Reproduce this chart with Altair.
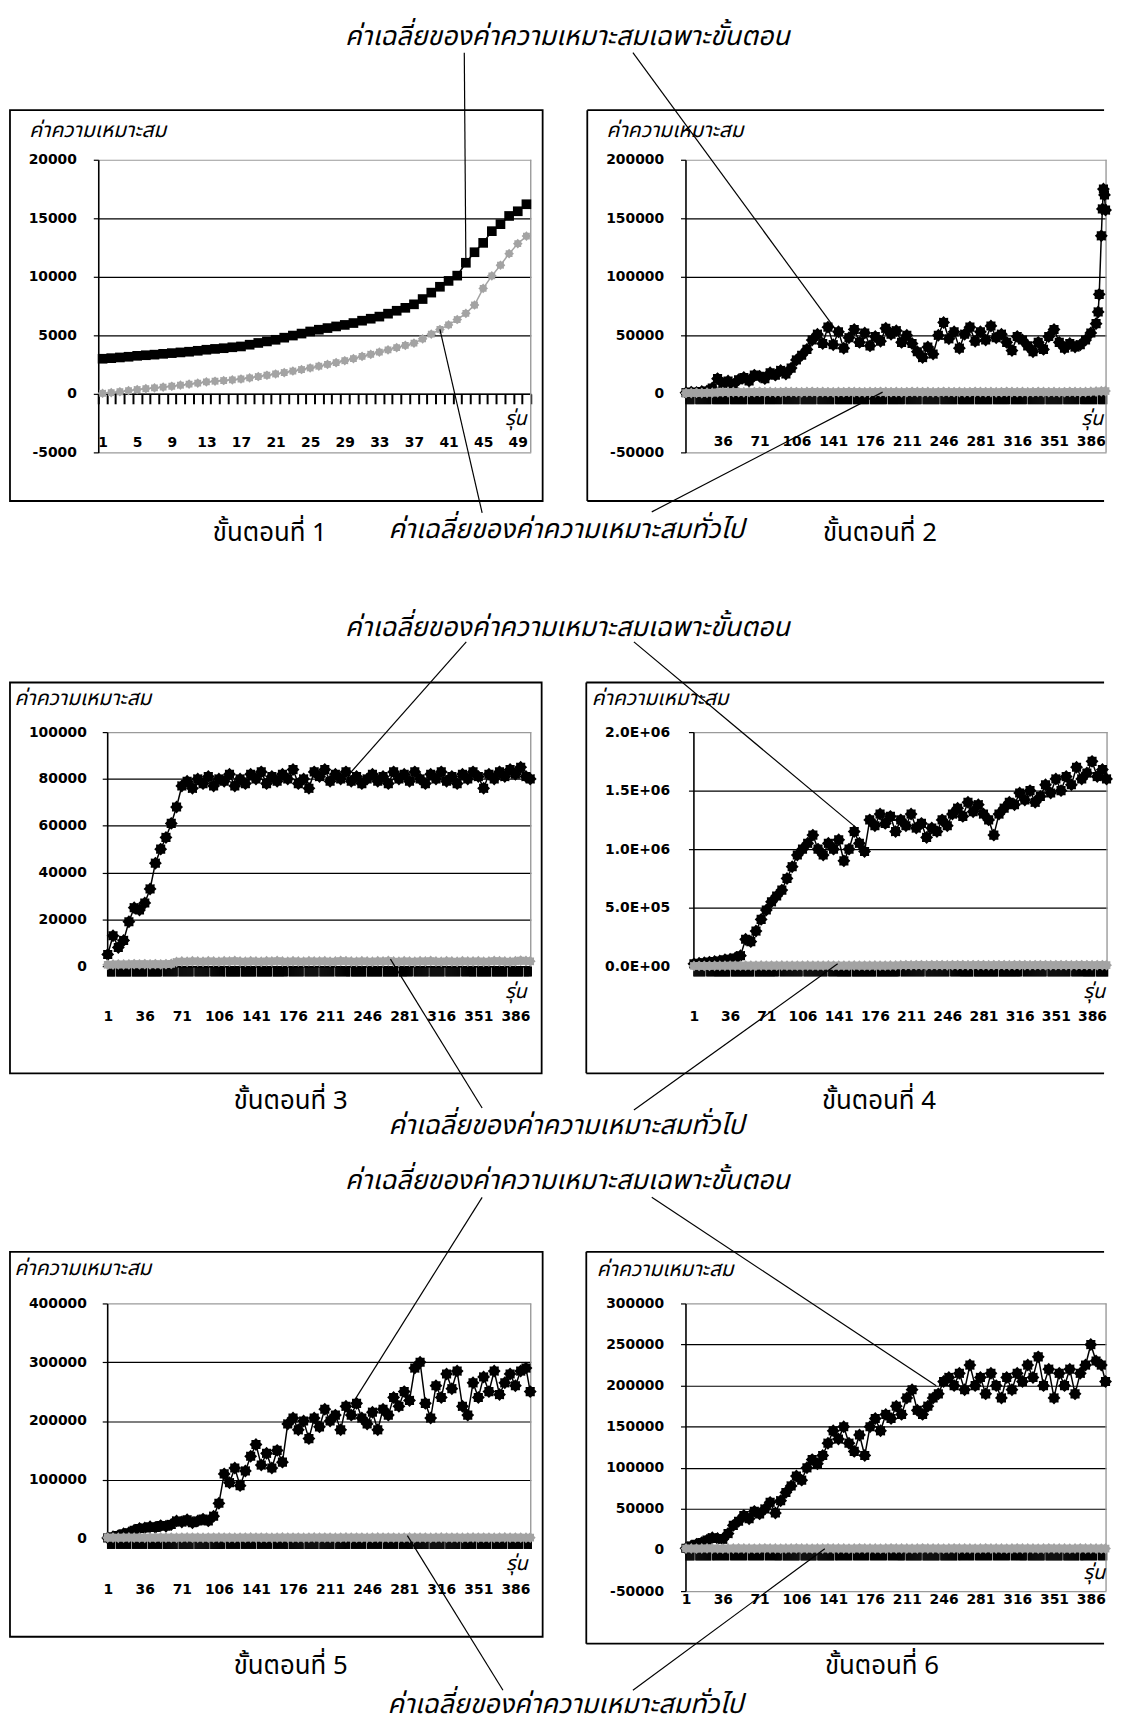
import altair as alt
import pandas as pd

# ---------------- texts ----------------
Y_TITLE = "ค่าความเหมาะสม"
X_TITLE = "รุ่น"
NOTE_SPECIFIC = "ค่าเฉลี่ยของค่าความเหมาะสมเฉพาะขั้นตอน"
NOTE_GENERAL = "ค่าเฉลี่ยของค่าความเหมาะสมทั่วไป"
STEP_CAPTIONS = ["ขั้นตอนที่ 1", "ขั้นตอนที่ 2", "ขั้นตอนที่ 3",
                 "ขั้นตอนที่ 4", "ขั้นตอนที่ 5", "ขั้นตอนที่ 6"]

# ---------------- data ----------------
P1_GEN = list(range(1, 51))
P1_SPECIFIC = [3000, 3050, 3110, 3170, 3250, 3300, 3350, 3420, 3480, 3540,
               3600, 3680, 3770, 3840, 3900, 3980, 4050, 4200, 4350, 4480,
               4620, 4800, 4980, 5150, 5330, 5480, 5620, 5760, 5890, 6050,
               6250, 6420, 6600, 6850, 7100, 7350, 7650, 8100, 8650, 9150,
               9650, 10100, 11200, 12100, 12900, 13900, 14500, 15200, 15600, 16200]
P1_GENERAL = [50, 100, 180, 270, 370, 440, 510, 580, 650, 740,
              830, 920, 1020, 1080, 1140, 1200, 1270, 1370, 1480, 1590,
              1700, 1820, 1950, 2080, 2210, 2360, 2520, 2670, 2830, 3010,
              3200, 3380, 3570, 3760, 3950, 4140, 4330, 4700, 5100, 5500,
              5890, 6350, 6880, 7590, 9010, 10080, 10990, 11980, 12830, 13480]

GEN_400 = list(range(1, 397, 5)) + [400]            # generations sampled in stages 2-6
P2_GEN = list(range(1, 392, 5)) + [393, 394, 396, 397, 398, 399, 400]

P2_SPECIFIC = [1000, 1500, 1200, 2000, 2500, 5000, 13000, 9000, 11000, 8000,
               12000, 14000, 11000, 16000, 15000, 13000, 18000, 16000, 20000, 17000,
               22000, 29000, 33000, 38000, 46000, 51000, 43000, 57000, 42000, 53000,
               39000, 48000, 55000, 44000, 52000, 41000, 49000, 45000, 56000, 51000,
               54000, 44000, 50000, 43000, 36000, 31000, 40000, 34000, 50000, 61000,
               47000, 53000, 39000, 51000, 57000, 45000, 53000, 46000, 58000, 48000,
               51000, 44000, 37000, 49000, 46000, 41000, 36000, 44000, 38000, 49000,
               55000, 44000, 39000, 43000, 40000, 42000, 46000, 52000, 60000,
               70000, 85000, 135000, 158000, 175000, 170000, 157000]
P2_GENERAL = [600, 700, 800, 700, 900, 1000, 1300, 1500, 1400, 1600,
              1500, 1400, 1600, 1500, 1700, 1500, 1600, 1400, 1500, 1700,
              1600, 1500, 1400, 1600, 1700, 1500, 1600, 1500, 1400, 1600,
              1500, 1700, 1600, 1500, 1400, 1600, 1500, 1700, 1600, 1500,
              1600, 1400, 1500, 1700, 1600, 1500, 1600, 1400, 1500, 1700,
              1600, 1500, 1600, 1400, 1500, 1700, 1600, 1500, 1600, 1400,
              1500, 1700, 1600, 1500, 1600, 1400, 1500, 1700, 1600, 1500,
              1600, 1400, 1500, 1700, 1600, 1500, 1600, 1800, 2000, 2200,
              2400]

P3_SPECIFIC = [5000, 13000, 8000, 11000, 19000, 25000, 24000, 27000, 33000, 44000,
               50000, 55000, 61000, 68000, 77000, 79000, 76000, 80000, 78000, 81000,
               77000, 80000, 79000, 82000, 77000, 80000, 78000, 82000, 80000, 83000,
               78000, 81000, 79000, 82000, 80000, 84000, 78000, 80000, 76000, 83000,
               81000, 84000, 79000, 82000, 80000, 83000, 79000, 81000, 78000, 80000,
               82000, 79000, 81000, 78000, 83000, 80000, 82000, 79000, 83000, 80000,
               78000, 82000, 80000, 83000, 79000, 81000, 78000, 82000, 80000, 83000,
               81000, 76000, 82000, 80000, 83000, 81000, 84000, 82000, 85000, 81000,
               80000]
P3_GENERAL = [600, 700, 800, 700, 800, 900, 800, 900, 800, 900,
              800, 900, 1000, 1800, 2000, 1900, 2100, 2000, 1900, 2100,
              2000, 1900, 2100, 2000, 2200, 2000, 1900, 2100, 2000, 1900,
              2100, 2000, 2200, 2000, 1900, 2100, 2000, 1900, 2100, 2000,
              2000, 2100, 1900, 2000, 2200, 2100, 2000, 1900, 2100, 2000,
              1900, 2100, 2000, 2200, 2000, 1900, 2100, 2000, 1900, 2100,
              2000, 2200, 2000, 1900, 2100, 2000, 1900, 2100, 2000, 2000,
              2100, 1900, 2000, 2200, 2100, 2000, 1900, 2100, 2400, 2200,
              2100]

P4_SPECIFIC = [20000, 25000, 30000, 35000, 40000, 45000, 55000, 60000, 70000, 90000,
               230000, 210000, 300000, 400000, 480000, 550000, 600000, 650000, 750000, 850000,
               950000, 1000000, 1050000, 1120000, 1000000, 950000, 1050000, 1000000, 1080000, 900000,
               1000000, 1150000, 1050000, 980000, 1250000, 1200000, 1300000, 1220000, 1280000, 1150000,
               1250000, 1200000, 1300000, 1180000, 1220000, 1100000, 1180000, 1150000, 1250000, 1200000,
               1300000, 1350000, 1280000, 1400000, 1320000, 1380000, 1300000, 1250000, 1120000, 1300000,
               1350000, 1400000, 1380000, 1480000, 1420000, 1500000, 1400000, 1450000, 1550000, 1480000,
               1600000, 1500000, 1620000, 1550000, 1700000, 1600000, 1650000, 1750000, 1620000, 1680000,
               1600000]
P4_GENERAL = [2000, 2500, 3000, 3000, 3500, 4000, 4000, 4500, 4500, 5000,
              5000, 4500, 5000, 5500, 5000, 4500, 5000, 5500, 5000, 5000,
              4500, 5000, 5500, 5000, 4500, 5000, 5500, 5000, 5000, 4500,
              5000, 5500, 5000, 4500, 5000, 5500, 5000, 5000, 5500, 6000,
              8000, 9000, 8500, 9500, 9000, 8500, 9000, 9500, 9000, 8500,
              9000, 9500, 9000, 8500, 9000, 9500, 9000, 8500, 9000, 9500,
              9000, 8500, 9000, 9500, 9000, 8500, 9000, 9500, 9000, 8500,
              9000, 9500, 9000, 8500, 9000, 9500, 9000, 8500, 9000, 9500,
              9000]

P5_SPECIFIC = [1000, 3000, 5000, 8000, 10000, 14000, 17000, 18000, 20000, 19000,
               22000, 21000, 24000, 30000, 28000, 32000, 27000, 30000, 33000, 30000,
               38000, 60000, 110000, 95000, 120000, 90000, 115000, 140000, 160000, 125000,
               145000, 120000, 150000, 130000, 195000, 205000, 185000, 200000, 170000, 205000,
               190000, 220000, 200000, 210000, 185000, 225000, 210000, 230000, 205000, 195000,
               215000, 185000, 220000, 210000, 240000, 225000, 250000, 235000, 290000, 300000,
               230000, 205000, 260000, 240000, 280000, 255000, 285000, 225000, 210000, 265000,
               240000, 275000, 250000, 285000, 245000, 265000, 280000, 260000, 285000, 290000,
               250000]
P5_GENERAL = [1500, 1600, 1400, 1500, 1700, 1600, 1500, 1400, 1600, 1500,
              1700, 1500, 1600, 1400, 1500, 1700, 1600, 1500, 1400, 1600,
              1500, 1700, 1600, 1500, 1400, 1600, 1500, 1700, 1600, 1500,
              1600, 1400, 1500, 1700, 1600, 1500, 1600, 1400, 1500, 1700,
              1600, 1500, 1600, 1400, 1500, 1700, 1600, 1500, 1600, 1400,
              1500, 1700, 1600, 1500, 1600, 1400, 1500, 1700, 1600, 1500,
              1600, 1400, 1500, 1700, 1600, 1500, 1600, 1400, 1500, 1700,
              1600, 1500, 1600, 1400, 1500, 1700, 1600, 1500, 1600, 1400,
              1500]

P6_SPECIFIC = [2000, 5000, 7000, 9000, 12000, 15000, 14000, 13000, 20000, 30000,
               35000, 42000, 38000, 47000, 44000, 50000, 58000, 45000, 60000, 70000,
               78000, 90000, 85000, 100000, 110000, 105000, 115000, 130000, 145000, 135000,
               150000, 130000, 120000, 140000, 115000, 150000, 160000, 145000, 165000, 160000,
               175000, 165000, 185000, 195000, 170000, 165000, 175000, 185000, 190000, 205000,
               210000, 200000, 215000, 195000, 225000, 200000, 210000, 190000, 215000, 200000,
               185000, 210000, 195000, 215000, 205000, 225000, 210000, 235000, 200000, 220000,
               185000, 215000, 200000, 220000, 190000, 215000, 225000, 250000, 230000, 225000,
               205000]
P6_GENERAL = [1800, 1900, 1700, 1800, 2000, 1900, 1800, 1700, 1900, 1800,
              2000, 1800, 1900, 1700, 1800, 2000, 1900, 1800, 1700, 1900,
              1800, 2000, 1900, 1800, 1700, 1900, 1800, 2000, 1900, 1800,
              1900, 1700, 1800, 2000, 1900, 1800, 1900, 1700, 1800, 2000,
              1900, 1800, 1900, 1700, 1800, 2000, 1900, 1800, 1900, 1700,
              1800, 2000, 1900, 1800, 1900, 1700, 1800, 2000, 1900, 1800,
              1900, 1700, 1800, 2000, 1900, 1800, 1900, 1700, 1800, 2000,
              1900, 1800, 1900, 1700, 1800, 2000, 1900, 1800, 1900, 1700,
              1800]

# tick values / labels
P1_Y_TICKS = [-5000, 0, 5000, 10000, 15000, 20000]
P2_Y_TICKS = [-50000, 0, 50000, 100000, 150000, 200000]
P3_Y_TICKS = [0, 20000, 40000, 60000, 80000, 100000]
P4_Y_TICKS = [0, 500000, 1000000, 1500000, 2000000]
P5_Y_TICKS = [0, 100000, 200000, 300000, 400000]
P6_Y_TICKS = [-50000, 0, 50000, 100000, 150000, 200000, 250000, 300000]
P1_X_LABELS = [1, 5, 9, 13, 17, 21, 25, 29, 33, 37, 41, 45, 49]
P2_X_LABELS = [36, 71, 106, 141, 176, 211, 246, 281, 316, 351, 386]
P36_X_LABELS = [1, 36, 71, 106, 141, 176, 211, 246, 281, 316, 351, 386]

# leader-line anchors: (panel index, generation, value) -> free end (page px)
LEADERS = [
    (0, 43, 11200, 468, 46), (1, 145, 53000, 638, 46),
    (0, 40, 5500, 486, 510), (1, 188, 1500, 657, 509),
    (2, 229, 82000, 470, 640), (3, 157, 1190000, 639, 640),
    (2, 268, 3000, 486, 1110), (3, 140, 20000, 639, 1112),
    (4, 234, 235000, 486, 1200), (5, 239, 200000, 657, 1200),
    (4, 284, 5000, 507, 1697), (5, 133, 1500, 638, 1697),
]

# ---------------- styling / layout ----------------
PAGE_W, PAGE_H = 1121, 1735
ROW_BANDS = [(8, 575), (575, 1155), (1155, 1727)]   # vertical page band of each row
FONT_NUM = "DejaVu Sans"
FONT_THAI = "'Noto Sans Thai', 'Noto Sans Thai UI', Loma, Garuda, Waree, sans-serif"
GRAY = "#a3a3a3"
BORDER_GRAY = "#9a9a9a"
# chunky 8-spoke star, like the spreadsheet "*" marker at low resolution
STAR = ("M0,-1L0.29,-0.7L0.71,-0.71L0.7,-0.29L1,0L0.7,0.29L0.71,0.71L0.29,0.7L0,1"
        "L-0.29,0.7L-0.71,0.71L-0.7,0.29L-1,0L-0.7,-0.29L-0.71,-0.71L-0.29,-0.7Z")

INT_LABEL_EXPR = "datum.value < 0 ? '-' + format(-datum.value, 'd') : format(datum.value, 'd')"
P4_LABEL_EXPR = ("datum.value == 0 ? '0.0E+00' : (datum.value < 1000000 ? "
                 "format(datum.value / 100000, '.1f') + 'E+05' : "
                 "format(datum.value / 1000000, '.1f') + 'E+06')")

PANELS = [
    dict(box=(99, 154, 436, 295), frame=(10, 547, 104, 498), closed=True, n=50,
         gen=P1_GEN, spec=P1_SPECIFIC, ggen=P1_GEN, gval=P1_GENERAL,
         ydom=(-5000, 20000), yt=P1_Y_TICKS, xl=P1_X_LABELS, lp=17, lab_off=-10,
         title=(29, 125), run=(531, 415), shape="square", ssize=95, gsize=95, tw=2),
    dict(box=(691, 154, 424, 295), frame=(592, 1113, 104, 498), closed=False, n=400,
         gen=P2_GEN, spec=P2_SPECIFIC, ggen=GEN_400, gval=P2_GENERAL,
         ydom=(-50000, 200000), yt=P2_Y_TICKS, xl=P2_X_LABELS, lp=17, lab_off=-11,
         title=(611, 125), run=(1112, 415), shape=STAR, ssize=170, gsize=120, tw=1.5),
    dict(box=(108, 731, 427, 236), frame=(10, 546, 681, 1075), closed=True, n=400,
         gen=GEN_400, spec=P3_SPECIFIC, ggen=GEN_400, gval=P3_GENERAL,
         ydom=(0, 100000), yt=P3_Y_TICKS, xl=P36_X_LABELS, lp=16, lab_off=51,
         title=(14, 697), run=(531, 993), shape=STAR, ssize=170, gsize=120, tw=1.5),
    dict(box=(699, 731, 417, 236), frame=(591, 1113, 681, 1075), closed=False, n=400,
         gen=GEN_400, spec=P4_SPECIFIC, ggen=GEN_400, gval=P4_GENERAL,
         ydom=(0, 2000000), yt=P4_Y_TICKS, xl=P36_X_LABELS, lp=19, lab_off=51,
         title=(596, 697), run=(1114, 993), shape=STAR, ssize=170, gsize=120, tw=1.5),
    dict(box=(108, 1307, 427, 237), frame=(10, 547, 1255, 1643), closed=True, n=400,
         gen=GEN_400, spec=P5_SPECIFIC, ggen=GEN_400, gval=P5_GENERAL,
         ydom=(0, 400000), yt=P5_Y_TICKS, xl=P36_X_LABELS, lp=16, lab_off=51,
         title=(14, 1272), run=(532, 1570), shape=STAR, ssize=170, gsize=120, tw=1.5),
    dict(box=(691, 1307, 424, 290), frame=(591, 1113, 1255, 1650), closed=False, n=400,
         gen=GEN_400, spec=P6_SPECIFIC, ggen=GEN_400, gval=P6_GENERAL,
         ydom=(-50000, 300000), yt=P6_Y_TICKS, xl=P36_X_LABELS, lp=17, lab_off=9,
         title=(601, 1273), run=(1114, 1579), shape=STAR, ssize=170, gsize=120, tw=1.5),
]

# annotation texts: (row, text, page centre x, page centre y, italic)
NOTES = [
    (0, NOTE_SPECIFIC, 572, 30, True), (0, NOTE_GENERAL, 571, 527, True),
    (0, STEP_CAPTIONS[0], 272, 530, False), (0, STEP_CAPTIONS[1], 887, 530, False),
    (1, NOTE_SPECIFIC, 572, 626, True), (1, NOTE_GENERAL, 571, 1128, True),
    (1, STEP_CAPTIONS[2], 293, 1103, False), (1, STEP_CAPTIONS[3], 886, 1103, False),
    (2, NOTE_SPECIFIC, 572, 1184, True), (2, NOTE_GENERAL, 570, 1712, True),
    (2, STEP_CAPTIONS[4], 293, 1673, False), (2, STEP_CAPTIONS[5], 889, 1673, False),
]


def build_panel(i, p):
    L, T, W, H = p["box"]
    ymin, ymax = p["ydom"]
    n = p["n"]
    row = i // 2
    xs = alt.Scale(domain=[0.5, n + 0.5], nice=False, zero=False)
    ys = alt.Scale(domain=[ymin, ymax], nice=False, zero=False)
    zero_px = H * ymax / (ymax - ymin)
    one = pd.DataFrame({"k": [0]})
    layers = []

    if i % 2 == 0:
        # invisible band that fixes the extent of this row of the figure
        by0, by1 = ROW_BANDS[row]
        layers.append(alt.Chart(one).mark_rect(opacity=0).encode(
            x=alt.value(8 - L), x2=alt.value(PAGE_W - 8 - L),
            y=alt.value(by0 - T), y2=alt.value(by1 - T)))

    fx0, fx1, fy0, fy1 = p["frame"]
    if p["closed"]:
        layers.append(alt.Chart(one).mark_rect(fillOpacity=0, stroke="black", strokeWidth=1.8).encode(
            x=alt.value(fx0 - L), x2=alt.value(fx1 - L), y=alt.value(fy0 - T), y2=alt.value(fy1 - T)))
    else:
        layers.append(alt.Chart(one).mark_rule(color="black", strokeWidth=1.8).encode(
            x=alt.value(fx0 - L), x2=alt.value(fx1 - L), y=alt.value(fy0 - T)))
        layers.append(alt.Chart(one).mark_rule(color="black", strokeWidth=1.8).encode(
            x=alt.value(fx0 - L), x2=alt.value(fx1 - L), y=alt.value(fy1 - T)))
        layers.append(alt.Chart(one).mark_rule(color="black", strokeWidth=1.8).encode(
            x=alt.value(fx0 - L), y=alt.value(fy0 - T), y2=alt.value(fy1 - T)))

    # right border of plot area
    layers.append(alt.Chart(one).mark_rule(color=BORDER_GRAY, strokeWidth=1.4).encode(
        x=alt.value(W), y=alt.value(0), y2=alt.value(H)))

    gray_vals = [ymax] + ([ymin] if ymin < 0 else [])
    test = " || ".join(f"datum.value == {v}" for v in gray_vals)
    y_axis_kw = dict(
        orient="left", values=p["yt"], labelFont=FONT_NUM, labelFontSize=14,
        labelFontWeight="bold", labelColor="black", labelPadding=p["lp"],
        labelFlush=False, labelOverlap=False,
        tickSize=5, tickColor="black", tickWidth=1.2,
        domainColor="black", domainWidth=1.6,
        grid=True, gridColor={"condition": {"test": test, "value": BORDER_GRAY}, "value": "black"},
        gridWidth=1.2, gridOpacity=1,
        title=Y_TITLE, titleAngle=0, titleAlign="left", titleBaseline="middle",
        titleX=p["title"][0] - L, titleY=p["title"][1] - T, titleFont=FONT_THAI,
        titleFontStyle="italic", titleFontWeight="normal", titleFontSize=21, titleColor="black",
        labelExpr=P4_LABEL_EXPR if i == 3 else INT_LABEL_EXPR,
    )

    def Y(field="val"):
        # every layer carries the same (shared) y-axis definition
        return alt.Y(f"{field}:Q", scale=ys, axis=alt.Axis(**y_axis_kw))

    label_axis = alt.Axis(
        orient="bottom", values=p["xl"], format="d", labelFont=FONT_NUM, labelFontSize=14,
        labelFontWeight="bold", labelColor="black", labelBaseline="middle", labelPadding=0,
        labelFlush=False, labelOverlap=False, ticks=False, tickSize=0, domain=False,
        grid=False, title=None, offset=p["lab_off"])

    bounds = [k + 0.5 for k in range(0, n + 1)]
    tick_axis = alt.Axis(
        orient="bottom", values=bounds, labels=False, ticks=True, tickSize=10,
        tickColor="black", tickWidth=p["tw"], domain=True, domainColor="black",
        domainWidth=1.5, grid=False, title=None, offset=-(H - zero_px))

    sdf = pd.DataFrame({"gen": p["gen"], "val": p["spec"]})
    gdf = pd.DataFrame({"gen": p["ggen"], "val": p["gval"]})

    layers.append(alt.Chart(sdf).mark_line(color="black", strokeWidth=1.5).encode(
        x=alt.X("gen:Q", scale=xs, axis=label_axis), y=Y()))
    layers.append(alt.Chart(sdf).mark_point(shape=p["shape"], size=p["ssize"], filled=True,
                                            color="black", opacity=1).encode(
        x=alt.X("gen:Q", scale=xs, axis=None), y=Y()))
    layers.append(alt.Chart(gdf).mark_line(color=GRAY, strokeWidth=1.5).encode(
        x=alt.X("gen:Q", scale=xs, axis=tick_axis), y=Y()))
    layers.append(alt.Chart(gdf).mark_point(shape=STAR, size=p["gsize"], filled=True,
                                            color=GRAY, opacity=1).encode(
        x=alt.X("gen:Q", scale=xs, axis=None), y=Y()))

    # "รุ่น" axis caption
    layers.append(alt.Chart(pd.DataFrame({"t": [X_TITLE]})).mark_text(
        font=FONT_THAI, fontSize=20, fontStyle="italic", align="right", baseline="middle",
        color="black").encode(text="t:N", x=alt.value(p["run"][0] - L), y=alt.value(p["run"][1] - T)))

    # leader lines anchored on data points of this panel
    for (pi, g, v, ex, ey) in LEADERS:
        if pi != i:
            continue
        layers.append(alt.Chart(pd.DataFrame({"gen": [g], "val": [v]})).mark_rule(
            color="black", strokeWidth=1.2).encode(
            x=alt.X("gen:Q", scale=xs, axis=None), y=Y(),
            x2=alt.value(ex - L), y2=alt.value(ey - T)))

    if i % 2 == 0:
        for (r, txt, cx, cy, italic) in NOTES:
            if r != row:
                continue
            layers.append(alt.Chart(pd.DataFrame({"t": [txt]})).mark_text(
                font=FONT_THAI, fontSize=27 if italic else 26,
                fontStyle="italic" if italic else "normal",
                align="center", baseline="middle", color="black").encode(
                text="t:N", x=alt.value(cx - L), y=alt.value(cy - T)))

    return alt.layer(*layers).properties(width=W, height=H).resolve_axis(x="independent")


def spacer(w, h):
    return alt.Chart(pd.DataFrame({"k": [0]})).mark_point(opacity=0).encode(
        x=alt.X("k:Q", axis=None), y=alt.Y("k:Q", axis=None)).properties(width=w, height=h)


charts = [build_panel(i, p) for i, p in enumerate(PANELS)]
b = [p["box"] for p in PANELS]
left0 = b[0][0]

row1 = alt.hconcat(charts[0], spacer(b[1][0] - (b[0][0] + b[0][2]), 1), charts[1],
                   spacing=0, bounds="flush")
row2 = alt.hconcat(spacer(b[2][0] - left0, 1), charts[2],
                   spacer(b[3][0] - (b[2][0] + b[2][2]), 1), charts[3],
                   spacing=0, bounds="flush")
row3 = alt.hconcat(spacer(b[4][0] - left0, 1), charts[4],
                   spacer(b[5][0] - (b[4][0] + b[4][2]), 1), charts[5],
                   spacing=0, bounds="flush")

chart = alt.vconcat(row1, row2, row3, spacing=0).properties(
    padding=0).configure_view(strokeWidth=0)

chart.save("out.html", embed_options={"renderer": "svg", "actions": False})
